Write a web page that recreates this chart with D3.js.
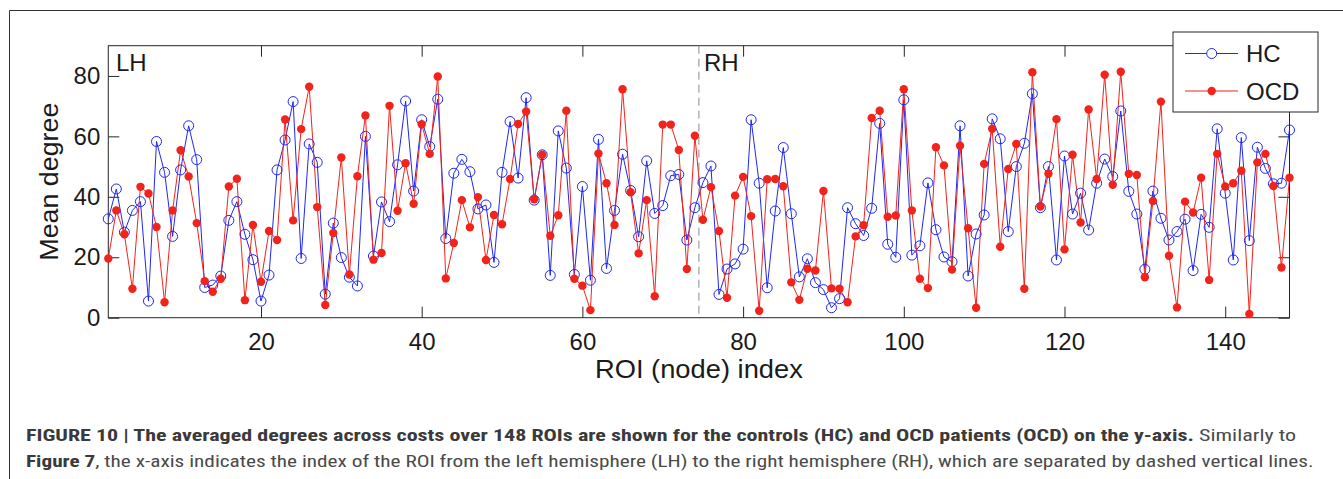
<!DOCTYPE html>
<html>
<head>
<meta charset="utf-8">
<script src="https://cdn.jsdelivr.net/npm/d3@7/dist/d3.min.js"></script>
<style>
  html, body { margin: 0; padding: 0; background: #fff; }
  svg { display: block; }
  .axis text { font-family: "Liberation Sans", Arial, Helvetica, sans-serif; font-size: 24px; fill: #1a1a1a; }
  .axis line { stroke: #262626; stroke-width: 1; }
  .axis path { display: none; }
</style>
</head>
<body>
<svg id="chart" width="1343" height="479"></svg>
<script>
// mean degree per ROI
const hc = [
  32.7, 42.6, 28.3, 35.5, 38.4, 5.5, 58.3, 48.1, 26.9, 48.9,
  63.5, 52.3, 10.0, 10.8, 13.8, 32.2, 38.4, 27.6, 19.2, 5.5,
  14.1, 48.9, 58.8, 71.5, 19.6, 57.5, 51.4, 7.8, 31.3, 19.9,
  13.4, 10.5, 60.0, 20.4, 38.3, 31.8, 50.6, 71.7, 41.9, 65.5,
  56.6, 72.3, 26.2, 47.8, 52.4, 48.3, 36.0, 37.3, 18.3, 48.1,
  64.9, 46.2, 72.8, 38.9, 53.9, 14.0, 61.8, 49.5, 14.3, 43.4,
  12.4, 59.0, 16.3, 35.5, 54.1, 42.1, 26.8, 51.9, 34.5, 37.1,
  47.0, 47.4, 25.7, 36.4, 44.7, 50.2, 7.7, 16.1, 17.8, 22.7,
  65.5, 44.5, 9.9, 35.3, 56.3, 34.4, 13.5, 19.5, 11.6, 9.3,
  3.3, 6.3, 36.4, 31.1, 27.2, 36.2, 64.3, 24.3, 20.0, 72.1,
  20.7, 23.8, 44.6, 29.1, 20.1, 18.5, 63.5, 13.8, 27.7, 34.0,
  65.8, 59.2, 28.5, 50.0, 57.7, 74.1, 36.4, 50.0, 19.1, 53.5,
  34.3, 41.2, 29.0, 44.5, 52.5, 46.7, 68.4, 41.8, 34.3, 16.0,
  41.9, 32.9, 25.7, 28.5, 32.6, 15.6, 34.2, 29.9, 62.5, 41.2,
  19.1, 59.6, 25.5, 56.4, 49.4, 44.3, 44.5, 62.1
];
const ocd = [
  19.6, 35.5, 27.6, 9.6, 43.3, 41.1, 30.0, 5.1, 35.5, 55.4,
  46.7, 31.3, 12.1, 8.6, 12.9, 43.4, 46.0, 5.8, 30.7, 11.9,
  28.7, 25.7, 65.6, 32.2, 62.4, 76.4, 36.6, 4.2, 28.0, 53.0,
  14.3, 46.8, 66.9, 19.2, 21.4, 70.1, 35.4, 51.1, 37.7, 64.0,
  54.2, 79.8, 13.0, 24.7, 38.9, 29.9, 39.9, 19.1, 34.0, 30.9,
  45.9, 64.1, 68.2, 39.2, 53.9, 27.1, 33.9, 68.5, 12.9, 10.6,
  2.5, 54.3, 44.5, 30.7, 75.6, 41.5, 21.3, 38.9, 7.1, 63.9,
  63.9, 55.5, 16.1, 60.2, 32.4, 43.2, 28.7, 6.6, 40.4, 46.6,
  33.6, 2.3, 45.8, 45.9, 43.5, 11.7, 5.9, 16.2, 15.6, 41.9,
  9.7, 9.6, 5.1, 26.9, 30.6, 66.1, 68.5, 33.4, 33.8, 75.6,
  35.5, 12.9, 9.8, 56.4, 50.4, 15.9, 56.9, 29.6, 3.3, 50.9,
  62.5, 23.5, 49.2, 57.5, 9.6, 81.2, 36.8, 47.6, 65.7, 22.6,
  53.9, 31.5, 68.9, 45.9, 80.4, 44.0, 81.4, 47.6, 47.2, 13.4,
  38.6, 71.5, 20.5, 3.4, 38.4, 34.8, 46.3, 12.5, 54.2, 43.4,
  44.5, 48.6, 1.2, 51.4, 54.2, 43.6, 16.6, 46.3
];
const xTicks = [20, 40, 60, 80, 100, 120, 140];
const yTicks = [0, 20, 40, 60, 80];
const hemiSplit = 74.5;
const seriesNames = ['HC', 'OCD'];

const BLUE = '#1f28f0';
const RED = '#f2231a';
const INK = '#262626';
const FONT = '"Liberation Sans", Arial, Helvetica, sans-serif';

const svg = d3.select('#chart');

// outer figure frame (top + left edges only are visible)
svg.append('path')
  .attr('d', 'M9.5,479 V10.5 H1343')
  .attr('fill', 'none')
  .attr('stroke', '#333')
  .attr('stroke-width', 1);

const L = 108.3, R = 1289.5, T = 45.7, B = 317.7;
const x = d3.scaleLinear().domain([1, 148]).range([L, R]);
const y = d3.scaleLinear().domain([0, 90]).range([B, T]);
const idx = d3.range(1, hc.length + 1);

// axes, ticks pointing inward
svg.append('g').attr('class', 'axis')
  .attr('transform', `translate(0,${B})`)
  .call(d3.axisBottom(x).tickValues(xTicks).tickSizeInner(-11).tickSizeOuter(0).tickPadding(15));
svg.append('g').attr('class', 'axis')
  .attr('transform', `translate(0,${T})`)
  .call(d3.axisTop(x).tickValues(xTicks).tickSizeInner(-11).tickSizeOuter(0).tickFormat(''));
svg.append('g').attr('class', 'axis')
  .attr('transform', `translate(${L},0)`)
  .call(d3.axisLeft(y).tickValues(yTicks).tickSizeInner(-11).tickSizeOuter(0).tickPadding(8));
svg.append('g').attr('class', 'axis')
  .attr('transform', `translate(${R},0)`)
  .call(d3.axisRight(y).tickValues(yTicks).tickSizeInner(-11).tickSizeOuter(0).tickFormat(''));

svg.append('rect')
  .attr('x', L).attr('y', T)
  .attr('width', R - L).attr('height', B - T)
  .attr('fill', 'none')
  .attr('stroke', INK)
  .attr('stroke-width', 1);

// LH / RH divider
svg.append('line')
  .attr('x1', x(hemiSplit)).attr('x2', x(hemiSplit))
  .attr('y1', T).attr('y2', B)
  .attr('stroke', '#8a8a8a')
  .attr('stroke-width', 1)
  .attr('stroke-dasharray', '8,5');

svg.append('text')
  .attr('x', 116).attr('y', 71)
  .attr('font-family', FONT).attr('font-size', 24).attr('fill', '#1a1a1a')
  .text('LH');
svg.append('text')
  .attr('x', x(hemiSplit) + 5).attr('y', 71)
  .attr('font-family', FONT).attr('font-size', 24).attr('fill', '#1a1a1a')
  .text('RH');

// series
const line = d3.line().x((d, i) => x(idx[i])).y(d => y(d));

svg.append('path')
  .datum(hc)
  .attr('d', line)
  .attr('fill', 'none')
  .attr('stroke', BLUE)
  .attr('stroke-width', 1);
svg.append('path')
  .datum(ocd)
  .attr('d', line)
  .attr('fill', 'none')
  .attr('stroke', RED)
  .attr('stroke-width', 1);

svg.append('g').selectAll('circle')
  .data(hc)
  .join('circle')
  .attr('cx', (d, i) => x(idx[i]))
  .attr('cy', d => y(d))
  .attr('r', 5)
  .attr('fill', 'none')
  .attr('stroke', BLUE)
  .attr('stroke-width', 1);
svg.append('g').selectAll('circle')
  .data(ocd)
  .join('circle')
  .attr('cx', (d, i) => x(idx[i]))
  .attr('cy', d => y(d))
  .attr('r', 4.2)
  .attr('fill', RED);

// stretch a text node horizontally so it spans `w` pixels
function fitWidth(sel, w, ax) {
  const n = sel.node();
  const cur = n.getComputedTextLength();
  const k = w / cur;
  sel.attr('transform', `translate(${ax},0) scale(${k},1) translate(${-ax},0)`);
}

// axis labels
const xl = svg.append('text')
  .attr('x', (L + R) / 2).attr('y', 378)
  .attr('text-anchor', 'middle')
  .attr('font-family', FONT).attr('font-size', 25).attr('fill', '#1a1a1a')
  .text('ROI (node) index');
fitWidth(xl, 208, (L + R) / 2);

svg.append('text')
  .attr('transform', `translate(58,${(T + B) / 2}) rotate(-90)`)
  .attr('text-anchor', 'middle')
  .attr('font-family', FONT).attr('font-size', 25).attr('fill', '#1a1a1a')
  .attr('textLength', 158)
  .attr('lengthAdjust', 'spacingAndGlyphs')
  .text('Mean degree');

// legend
const lg = svg.append('g').attr('transform', 'translate(1173,32)');
lg.append('rect')
  .attr('width', 145).attr('height', 80)
  .attr('fill', '#fff')
  .attr('stroke', INK)
  .attr('stroke-width', 1);
seriesNames.forEach((name, i) => {
  const cy = i === 0 ? 21.5 : 59;
  const col = i === 0 ? BLUE : RED;
  lg.append('line')
    .attr('x1', 12).attr('x2', 65)
    .attr('y1', cy).attr('y2', cy)
    .attr('stroke', col).attr('stroke-width', 1);
  if (i === 0) {
    lg.append('circle').attr('cx', 38.7).attr('cy', cy).attr('r', 5)
      .attr('fill', '#fff').attr('stroke', col).attr('stroke-width', 1);
  } else {
    lg.append('circle').attr('cx', 38.7).attr('cy', cy).attr('r', 4.2).attr('fill', col);
  }
  lg.append('text')
    .attr('x', 73).attr('y', cy + 8.5)
    .attr('font-family', FONT).attr('font-size', 24).attr('fill', '#1a1a1a')
    .text(name);
});

// caption
const CAP_FONT = '"Liberation Sans Narrow", "Arial Narrow", "Roboto Condensed", "Liberation Sans", Arial, sans-serif';
const c1 = svg.append('text')
  .attr('x', 26).attr('y', 441)
  .attr('font-family', CAP_FONT).attr('font-size', 17).attr('fill', '#3a3a3a');
c1.append('tspan').attr('font-weight', 'bold')
  .text('FIGURE 10 | The averaged degrees across costs over 148 ROIs are shown for the controls (HC) and OCD patients (OCD) on the y-axis.');
c1.append('tspan').attr('fill', '#4a4a4a').text(' Similarly to');
fitWidth(c1, 1271, 26);

const c2 = svg.append('text')
  .attr('x', 26).attr('y', 467)
  .attr('font-family', CAP_FONT).attr('font-size', 17).attr('fill', '#4a4a4a');
c2.append('tspan').attr('font-weight', 'bold').attr('fill', '#3a3a3a').text('Figure 7');
c2.append('tspan')
  .text(', the x-axis indicates the index of the ROI from the left hemisphere (LH) to the right hemisphere (RH), which are separated by dashed vertical lines.');
fitWidth(c2, 1288, 26);
</script>
</body>
</html>
